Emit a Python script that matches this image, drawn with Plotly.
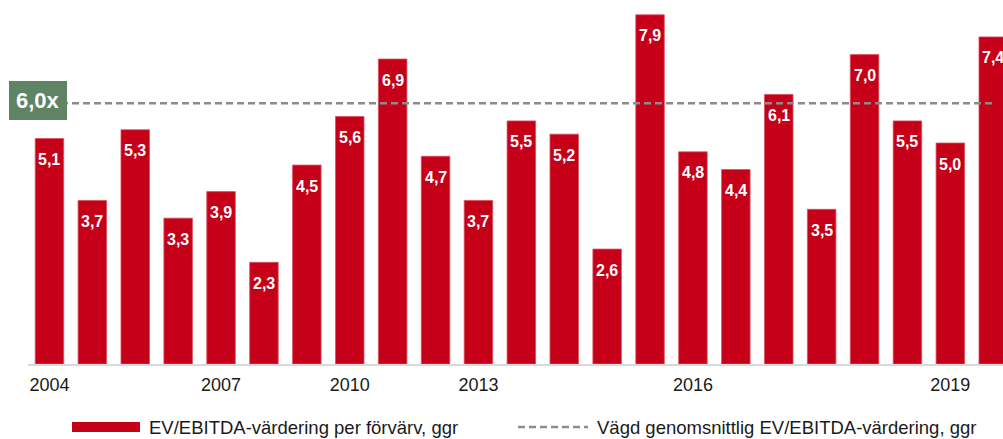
import plotly.graph_objects as go

# ---- data ----
values = [5.1, 3.7, 5.3, 3.3, 3.9, 2.3, 4.5, 5.6, 6.9, 4.7, 3.7, 5.5,
          5.2, 2.6, 7.9, 4.8, 4.4, 6.1, 3.5, 7.0, 5.5, 5.0, 7.4]
value_labels = ["5,1", "3,7", "5,3", "3,3", "3,9", "2,3", "4,5", "5,6", "6,9", "4,7", "3,7", "5,5",
                "5,2", "2,6", "7,9", "4,8", "4,4", "6,1", "3,5", "7,0", "5,5", "5,0", "7,4"]
tick_positions = [0, 4, 7, 10, 15, 21]
tick_labels = ["2004", "2007", "2010", "2013", "2016", "2019"]
avg_line_value = 5.9
avg_label = "6,0x"
legend_bar = "EV/EBITDA-värdering per förvärv, ggr"
legend_line = "Vägd genomsnittlig EV/EBITDA-värdering, ggr"

RED = "#C50018"
GREY = "#8C8C8C"
GREEN = "#5E8464"
FONT = "Liberation Sans, Arial, sans-serif"

W, H = 1003, 439
ML, MR, MT, MB = 28, 0, 0, 75
plot_w = W - ML - MR
plot_h = H - MT - MB
SLOT = 42.9          # px per category
PX_PER_UNIT = 44.2   # px per value unit

def px_x(p):
    return (p - ML) / plot_w

def px_y(p):
    return (H - MB - p) / plot_h

x = list(range(len(values)))

fig = go.Figure()
fig.add_trace(go.Bar(
    x=x, y=values, marker=dict(color=RED, line=dict(color="#D8505E", width=0.8)),
    width=0.665, showlegend=False, hoverinfo="skip",
))

fig.add_shape(type="line", xref="x", yref="y", x0=-0.5, x1=x[-1],
              y0=avg_line_value, y1=avg_line_value,
              line=dict(color=GREY, width=2.5, dash="7px,4px"), layer="above")

annotations = []
for xi, v, lab in zip(x, values, value_labels):
    annotations.append(dict(x=xi, y=v, xref="x", yref="y", text="<b>%s</b>" % lab,
                            showarrow=False, yshift=-21, yanchor="middle",
                            font=dict(family=FONT, size=16, color="white")))

annotations.append(dict(x=px_x(67), y=avg_line_value, xref="paper", yref="y",
                        text="<b>%s</b>" % avg_label, showarrow=False,
                        xanchor="right", yanchor="middle", yshift=3,
                        bgcolor=GREEN, borderpad=7, borderwidth=0,
                        font=dict(family=FONT, size=22, color="white")))

# legend (manual)
ly = px_y(427)
fig.add_shape(type="rect", xref="paper", yref="paper",
              x0=px_x(72), x1=px_x(140), y0=px_y(432), y1=px_y(422),
              fillcolor=RED, line=dict(width=0))
fig.add_shape(type="line", xref="paper", yref="paper",
              x0=px_x(518), x1=px_x(588), y0=ly, y1=ly,
              line=dict(color=GREY, width=2.5, dash="7px,4px"))
annotations.append(dict(x=px_x(147), y=ly, xref="paper", yref="paper", text=legend_bar,
                        showarrow=False, xanchor="left", yanchor="middle",
                        font=dict(family=FONT, size=18.5, color="#1a1a1a")))
annotations.append(dict(x=px_x(595), y=ly, xref="paper", yref="paper", text=legend_line,
                        showarrow=False, xanchor="left", yanchor="middle",
                        font=dict(family=FONT, size=18.5, color="#1a1a1a")))

fig.update_layout(
    width=W, height=H,
    margin=dict(l=ML, r=MR, t=MT, b=MB),
    paper_bgcolor="white", plot_bgcolor="white",
    annotations=annotations,
    xaxis=dict(range=[-0.5, -0.5 + plot_w / SLOT], showgrid=False, zeroline=False,
               showline=True, linecolor="#D9D9D9", linewidth=2,
               tickmode="array", tickvals=tick_positions, ticktext=tick_labels,
               ticks="", ticklabelstandoff=3,
               tickfont=dict(family=FONT, size=18, color="#1a1a1a"),
               fixedrange=True),
    yaxis=dict(range=[0, plot_h / PX_PER_UNIT], visible=False, fixedrange=True),
    showlegend=False,
    font=dict(family=FONT),
)

fig.write_html("out.html", config={"displayModeBar": False},
               post_script="document.body.style.margin='0';document.body.style.overflow='hidden';")
